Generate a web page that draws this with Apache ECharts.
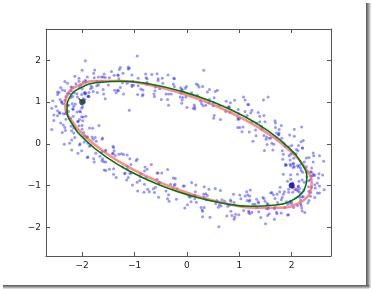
<!DOCTYPE html>
<html><head><meta charset="utf-8">
<script src="https://cdn.jsdelivr.net/npm/echarts@6/dist/echarts.min.js"></script>
<style>html,body{margin:0;padding:0;background:#fff}#c{width:372px;height:289px}</style>
</head><body><div id="c"></div>
<script>
const tickValues = [-2, -1, 0, 1, 2];
const axisMin = -2.69, axisMax = 2.75;

const samplePoints = [
[2.36,-1.17],[2.02,-0.94],[2.29,-0.79],[2.53,-1.01],[2.15,-1.28],[1.94,-1.09],[2.44,-0.76],[2.23,-1.11],[2.35,-0.86],[2.11,-0.53],[2.62,-1.10],[2.20,-0.87],[2.49,-1.18],[2.02,-1.05],[2.29,-0.68],
[2.36,-0.67],[2.13,-1.01],[1.98,-0.74],[2.24,-0.44],[2.51,-0.82],[2.32,-1.03],[2.03,-0.47],[2.38,-0.68],[2.13,-0.56],[1.84,-0.73],[2.41,-0.22],[2.18,-0.64],[2.53,-0.29],[2.40,-0.76],[2.03,-0.49],
[2.04,-0.35],[2.38,-0.58],[2.11,-0.73],[1.83,-0.37],[2.21,-0.10],[2.42,-0.29],[1.88,-0.49],[2.09,-0.14],[1.97,-0.39],[2.17,-0.58],[1.66,-0.01],[2.08,-0.24],[1.75,0.21],[2.22,0.08],[1.95,-0.29],
[1.82,-0.17],[2.05,0.18],[2.20,-0.10],[1.84,-0.25],[1.57,0.13],[1.76,0.34],[1.95,-0.07],[1.60,0.14],[1.85,0.02],[2.05,0.35],[1.48,-0.16],[1.71,0.26],[1.26,0.06],[1.39,0.53],[1.76,0.26],
[1.19,0.28],[1.68,0.55],[1.47,0.20],[1.49,0.53],[1.24,0.80],[1.75,0.23],[1.24,0.53],[1.52,0.16],[1.05,0.29],[1.22,0.74],[1.33,0.49],[0.99,0.72],[1.16,0.94],[1.39,0.66],[1.01,0.39],
[1.07,0.40],[0.80,0.89],[1.15,0.68],[0.78,0.86],[0.51,0.61],[1.08,1.12],[0.74,0.77],[1.11,1.05],[0.98,0.58],[0.50,0.91],[0.75,1.02],[0.52,0.68],[0.26,1.02],[0.54,1.25],[0.81,0.87],
[0.09,1.22],[0.51,0.99],[0.23,1.36],[0.58,1.28],[0.31,0.91],[0.20,1.16],[0.42,0.98],[0.15,0.83],[-0.08,1.11],[0.18,1.43],[0.39,1.24],[-0.10,0.97],[-0.01,1.37],[-0.13,1.12],[0.12,0.85],
[-0.35,0.92],[-0.12,1.34],[-0.49,1.06],[-0.47,1.57],[-0.10,1.30],[-0.35,1.19],[-0.24,1.56],[-0.09,1.29],[-0.37,1.06],[-0.76,1.47],[-0.57,1.68],[-0.30,1.19],[-0.77,1.44],[-0.52,1.32],[-0.25,1.57],
[-0.46,1.45],[-0.84,1.18],[-1.05,1.37],[-0.67,1.66],[-0.88,1.31],[-0.76,1.56],[-1.12,1.84],[-0.61,1.27],[-1.03,1.50],[-0.85,1.15],[-1.32,1.28],[-1.05,1.65],[-1.05,1.41],[-1.39,1.64],[-1.12,1.79],
[-1.29,1.78],[-1.02,1.40],[-1.21,1.19],[-1.58,1.67],[-1.23,1.46],[-1.48,1.58],[-1.84,1.32],[-1.27,1.83],[-1.50,1.41],[-1.22,1.69],[-1.35,1.22],[-1.72,1.49],[-1.56,1.59],[-1.79,1.25],[-1.94,1.52],
[-1.69,1.60],[-1.81,1.35],[-1.56,1.08],[-2.14,1.62],[-1.72,1.39],[-2.00,1.76],[-1.60,1.60],[-1.87,1.23],[-1.98,1.48],[-1.71,1.23],[-1.98,1.08],[-2.21,1.36],[-1.90,1.60],[-1.69,1.41],[-2.18,1.14],
[-2.19,1.35],[-1.94,1.23],[-1.67,1.48],[-2.28,0.92],[-2.05,1.34],[-2.42,1.06],[-2.33,1.49],[-1.96,1.22],[-2.21,1.11],[-2.03,1.40],[-1.88,1.13],[-2.16,0.90],[-2.47,1.24],[-2.28,1.45],[-2.01,0.96],
[-2.31,1.13],[-2.03,0.76],[-2.50,0.89],[-2.24,1.20],[-2.13,0.95],[-2.47,1.18],[-2.21,1.27],[-1.98,0.99],[-2.36,0.72],[-2.58,0.85],[-2.09,1.12],[-2.30,0.77],[-2.19,0.96],[-2.44,1.23],[-1.93,0.66],
[-2.32,0.72],[-1.95,1.00],[-2.08,0.53],[-2.43,0.73],[-2.18,0.84],[-2.41,0.50],[-2.54,0.69],[-2.26,0.92],[-1.99,0.55],[-2.16,0.26],[-2.43,0.75],[-2.08,0.54],[-2.31,0.59],[-2.58,0.34],[-2.01,0.85],
[-2.01,0.65],[-1.86,0.38],[-2.14,0.15],[-2.36,0.45],[-2.17,0.66],[-1.90,0.17],[-2.20,0.31],[-1.95,0.19],[-1.68,0.44],[-2.20,-0.15],[-1.97,0.27],[-2.34,-0.01],[-2.16,0.38],[-1.79,0.11],[-2.04,0.00],
[-1.81,0.16],[-2.06,0.43],[-1.55,-0.15],[-1.89,0.01],[-1.61,-0.36],[-2.08,-0.23],[-1.73,0.06],[-1.62,-0.19],[-1.96,0.04],[-1.62,0.11],[-1.39,-0.17],[-1.77,-0.44],[-1.90,-0.33],[-1.41,-0.06],[-1.62,-0.41],
[-1.55,-0.64],[-1.78,-0.36],[-1.40,-0.09],[-1.09,-0.36],[-1.58,-0.63],[-1.37,-0.28],[-1.40,-0.60],[-1.15,-0.87],[-1.66,-0.30],[-1.14,-0.61],[-1.42,-0.24],[-0.95,-0.37],[-1.12,-0.81],[-1.23,-0.56],[-0.89,-0.79],
[-0.68,-0.50],[-0.81,-0.97],[-1.18,-0.70],[-0.81,-0.65],[-1.04,-0.99],[-1.19,-0.72],[-0.80,-0.56],[-0.53,-0.94],[-0.72,-1.15],[-0.88,-0.72],[-0.53,-0.93],[-0.78,-0.81],[-0.94,-1.13],[-0.37,-0.62],[-0.60,-1.04],
[-0.54,-1.28],[-0.75,-1.09],[-0.26,-0.82],[-0.35,-1.22],[-0.23,-0.97],[-0.48,-0.70],[0.15,-1.32],[-0.27,-1.09],[0.01,-1.46],[-0.34,-1.38],[-0.07,-1.01],[0.04,-1.26],[-0.19,-1.08],[0.09,-0.93],[0.32,-1.21],
[-0.05,-1.01],[0.33,-1.28],[0.08,-1.39],[0.42,-1.09],[0.57,-1.36],[0.29,-1.59],[0.14,-1.24],[0.33,-1.03],[0.60,-1.52],[0.37,-1.34],[0.62,-1.46],[0.89,-1.21],[0.44,-1.76],[0.67,-1.34],[0.30,-1.62],
[0.90,-1.81],[0.39,-1.24],[0.81,-1.47],[0.64,-1.12],[1.11,-1.25],[0.84,-1.62],[0.84,-1.38],[1.18,-1.61],[0.91,-1.76],[0.78,-1.50],[1.16,-1.23],[1.37,-1.42],[0.99,-1.70],[1.20,-1.35],[1.08,-1.60],
[1.45,-1.29],[1.24,-1.64],[1.36,-1.39],[1.21,-1.11],[1.72,-1.68],[1.30,-1.45],[1.67,-1.81],[1.20,-1.68],[1.47,-1.31],[1.67,-1.56],[1.33,-1.33],[1.60,-1.18],[1.92,-1.45],[1.54,-1.72],[1.33,-1.53],
[1.55,-1.45],[1.80,-1.34],[1.57,-1.68],[1.49,-1.38],[1.77,-1.15],[2.04,-1.53],[1.92,-1.71],[1.65,-1.22],[2.00,-1.43],[1.82,-1.29],[1.55,-1.54],[2.12,-1.03],[1.96,-1.42],[2.33,-1.14],[2.20,-1.61],
[2.15,-1.07],[2.36,-1.26],[1.87,-1.53],[2.12,-1.13],[2.00,-1.38],[2.25,-1.65],[1.78,-1.04],[2.20,-1.27],[1.92,-0.90],[2.44,-0.98],[2.17,-1.35],[2.06,-1.10],[2.44,-1.29],[2.17,-1.44],[1.94,-1.16],
[-0.95,2.10],[-1.94,1.99],[-1.10,0.80],[-0.97,-0.41],[0.61,-1.99],[0.30,-1.75],[2.61,-0.42],[1.50,-1.92],[0.32,1.76],[2.19,0.40],[1.55,1.12],[1.46,1.05]
];
const moreSamplePoints = [
[2.11,-1.11],[2.49,-0.94],[2.22,-1.27],[2.37,-0.78],[1.98,-0.85],[2.45,-1.06],[2.28,-0.55],[2.09,-1.09],[2.59,-0.75],[2.21,-0.68],
[2.32,-0.89],[2.15,-0.51],[2.52,-0.72],[2.03,-0.57],[2.14,-0.90],[2.41,-0.44],[1.88,-0.52],[2.42,-0.73],[2.12,-0.17],[2.05,-0.55],
[2.28,-0.34],[1.90,-0.51],[2.13,-0.04],[1.98,-0.53],[2.33,-0.33],[1.87,-0.06],[1.97,-0.49],[2.18,0.05],[1.64,-0.15],[2.02,-0.22],
[1.81,0.13],[1.98,-0.25],[1.51,0.11],[2.00,-0.04],[1.80,0.44],[1.53,-0.02],[1.96,0.21],[1.42,0.42],[1.62,0.01],[1.69,0.39],
[1.31,0.33],[1.69,0.50],[1.32,0.19],[1.47,0.68],[0.97,0.62],[1.43,0.35],[1.18,0.94],[0.97,0.39],[1.36,0.75],[0.98,0.82],
[1.00,0.60],[0.83,0.98],[1.11,0.77],[0.62,0.92],[0.64,0.58],[0.91,1.04],[0.28,0.96],[0.82,0.75],[0.43,1.30],[0.36,0.92],
[0.52,1.10],[0.14,0.93],[0.30,1.37],[0.15,0.88],[0.43,1.06],[-0.03,1.33],[0.00,0.87],[0.21,1.41],[-0.40,1.19],[-0.02,1.12],
[-0.26,1.43],[-0.09,1.05],[-0.60,1.36],[-0.11,1.21],[-0.36,1.65],[-0.63,1.19],[-0.24,1.37],[-0.78,1.58],[-0.62,1.13],[-0.55,1.51],
[-0.93,1.39],[-0.55,1.56],[-0.94,1.18],[-0.79,1.67],[-1.30,1.56],[-0.84,1.29],[-1.10,1.81],[-1.31,1.27],[-0.93,1.57],[-1.31,1.64],
[-1.27,1.35],[-1.44,1.73],[-1.14,1.45],[-1.63,1.60],[-1.59,1.19],[-1.32,1.65],[-1.93,1.49],[-1.38,1.28],[-1.76,1.77],[-1.83,1.39],
[-1.62,1.49],[-2.00,1.32],[-1.78,1.69],[-1.93,1.20],[-1.60,1.30],[-2.06,1.57],[-1.98,1.04],[-1.77,1.58],[-2.33,1.27],[-1.95,1.20],
[-2.12,1.44],[-1.95,1.06],[-2.38,1.29],[-1.89,1.14],[-2.06,1.50],[-2.33,1.04],[-1.87,1.14],[-2.41,1.35],[-2.17,0.82],[-2.10,1.20],
[-2.39,1.01],[-2.01,1.18],[-2.30,0.73],[-2.15,1.22],[-2.56,1.03],[-2.10,0.76],[-2.28,1.21],[-2.47,0.67],[-1.99,0.89],[-2.37,0.96],
[-2.22,0.61],[-2.39,0.99],[-1.98,0.64],[-2.47,0.79],[-2.32,0.32],[-2.05,0.78],[-2.54,0.56],[-2.00,0.35],[-2.26,0.77],[-2.33,0.39],
[-2.00,0.44],[-2.38,0.27],[-2.05,0.58],[-2.20,0.09],[-1.75,0.15],[-2.21,0.42],[-2.01,-0.17],[-1.80,0.37],[-2.24,0.01],[-1.86,-0.06],
[-1.91,0.15],[-1.74,-0.23],[-2.05,-0.03],[-1.56,-0.18],[-1.61,0.14],[-1.89,-0.32],[-1.30,-0.25],[-1.84,-0.04],[-1.48,-0.61],[-1.41,-0.23],
[-1.59,-0.43],[-1.21,-0.26],[-1.40,-0.73],[-1.25,-0.24],[-1.55,-0.44],[-1.09,-0.71],[-1.14,-0.27],[-1.35,-0.81],[-0.76,-0.61],[-1.14,-0.54],
[-0.90,-0.88],[-1.07,-0.50],[-0.57,-0.85],[-1.06,-0.70],[-0.82,-1.16],[-0.55,-0.70],[-0.95,-0.92],[-0.40,-1.13],[-0.57,-0.70],[-0.64,-1.08],
[-0.24,-1.00],[-0.62,-1.17],[-0.22,-0.83],[-0.37,-1.32],[0.15,-1.24],[-0.31,-0.97],[-0.04,-1.54],[0.17,-0.99],[-0.20,-1.33],[0.18,-1.40],
[0.16,-1.15],[0.33,-1.53],[0.06,-1.28],[0.55,-1.43],[0.54,-1.07],[0.27,-1.53],[0.90,-1.41],[0.36,-1.20],[0.76,-1.73],[0.83,-1.35],
[0.65,-1.49],[1.03,-1.32],[0.86,-1.72],[1.01,-1.23],[0.72,-1.38],[1.18,-1.65],[1.14,-1.15],[0.93,-1.69],[1.53,-1.43],[1.15,-1.36],
[1.37,-1.63],[1.20,-1.25],[1.68,-1.53],[1.19,-1.38],[1.41,-1.77],[1.68,-1.31],[1.26,-1.45],[1.80,-1.66],[1.62,-1.17],[1.55,-1.55],
[1.90,-1.39],[1.52,-1.56],[1.86,-1.15],[1.71,-1.64],[2.18,-1.48],[1.72,-1.21],[1.94,-1.70],[2.15,-1.16],[1.73,-1.41],[2.11,-1.48],
[2.02,-1.16],[2.19,-1.54],[1.84,-1.21],[2.33,-1.36],[2.24,-0.92],[1.97,-1.38],[2.53,-1.18],[1.99,-0.97],[2.31,-1.42],[2.38,-1.04]
];

const greenEllipse = [
[2.236,-1.118],[2.289,-0.821],[2.186,-0.468],[1.935,-0.084],[1.551,0.307],[1.062,0.677],[0.5,1.0],[-0.096,1.255],[-0.685,1.425],[-1.227,1.498],[-1.686,1.468],[-2.031,1.339],
[-2.236,1.118],[-2.289,0.821],[-2.186,0.468],[-1.935,0.084],[-1.551,-0.307],[-1.062,-0.677],[-0.5,-1.0],[0.096,-1.255],[0.685,-1.425],[1.227,-1.498],[1.686,-1.468],[2.031,-1.339],[2.236,-1.118]
];
const redEllipse = [
[2.331,-1.227],[2.381,-0.943],[2.270,-0.596],[2.006,-0.209],[1.609,0.191],[1.103,0.577],[0.524,0.923],[-0.089,1.205],[-0.693,1.403],[-1.248,1.505],[-1.716,1.504],[-2.065,1.399],
[-2.271,1.197],[-2.321,0.913],[-2.210,0.566],[-1.946,0.179],[-1.549,-0.221],[-1.043,-0.607],[-0.464,-0.953],[0.149,-1.235],[0.753,-1.433],[1.308,-1.535],[1.776,-1.534],[2.125,-1.429],[2.331,-1.227]
];
const trueFoci = [[-2, 1], [2, -1]];
const fittedFoci = [[-2.07, 1.09], [2.13, -1.12]];

const chart = echarts.init(document.getElementById('c'), null, {renderer: 'canvas'});
const fmt = v => String(v).replace('-', '\u2212');
const labelStyle = {fontFamily: 'DejaVu Sans', fontSize: 9, color: '#222'};
function mkAxis(pos, show) {
  return {type: 'value', position: pos, min: axisMin, max: axisMax,
    axisLine: {show: true, onZero: false, lineStyle: {color: '#555', width: 1}},
    axisTick: {show: true, inside: true, length: 4, customValues: tickValues, lineStyle: {color: '#555'}},
    axisLabel: Object.assign({show: show, margin: 5, customValues: tickValues, formatter: fmt}, labelStyle),
    splitLine: {show: false}};
}
const focusLines = trueFoci.map((f, i) => ({
  type: 'line', data: [f, fittedFoci[i]], symbol: 'none', silent: true, z: 5,
  lineStyle: {color: i === 0 ? '#a02020' : '#f07070', width: 1.2}
}));
chart.setOption({
  animation: false,
  backgroundColor: '#fff',
  grid: {left: 46, top: 29, right: 41, bottom: 33, containLabel: false},
  xAxis: [mkAxis('bottom', true), mkAxis('top', false)],
  yAxis: [mkAxis('left', true), mkAxis('right', false)],
  graphic: [
    {type: 'rect', shape: {x: 366, y: 3, width: 5, height: 285}, style: {fill: new echarts.graphic.LinearGradient(0, 0, 1, 0, [{offset: 0, color: '#555'}, {offset: 0.4, color: '#888'}, {offset: 1, color: '#eee'}])}, silent: true},
    {type: 'rect', shape: {x: 3, y: 285, width: 366, height: 4}, style: {fill: new echarts.graphic.LinearGradient(0, 0, 0, 1, [{offset: 0, color: '#555'}, {offset: 0.4, color: '#888'}, {offset: 1, color: '#eee'}])}, silent: true}
  ],
  series: [
    {type: 'scatter', data: samplePoints.concat(moreSamplePoints), symbolSize: 3, z: 2,
      itemStyle: {color: 'rgba(20,20,255,0.55)'}},
    {type: 'line', data: redEllipse, smooth: 0.5, symbol: 'none', z: 3,
      lineStyle: {color: 'rgba(255,90,90,0.7)', width: 2.6}},
    {type: 'line', data: greenEllipse, smooth: 0.5, symbol: 'none', z: 4,
      lineStyle: {color: '#007a00', width: 1.6}},
    ...focusLines,
    {type: 'scatter', data: [trueFoci[0]], symbolSize: 6, z: 6, itemStyle: {color: '#0b4d12'}},
    {type: 'scatter', data: [trueFoci[1]], symbolSize: 6, z: 6, itemStyle: {color: '#0000b0'}}
  ]
});
</script></body></html>
